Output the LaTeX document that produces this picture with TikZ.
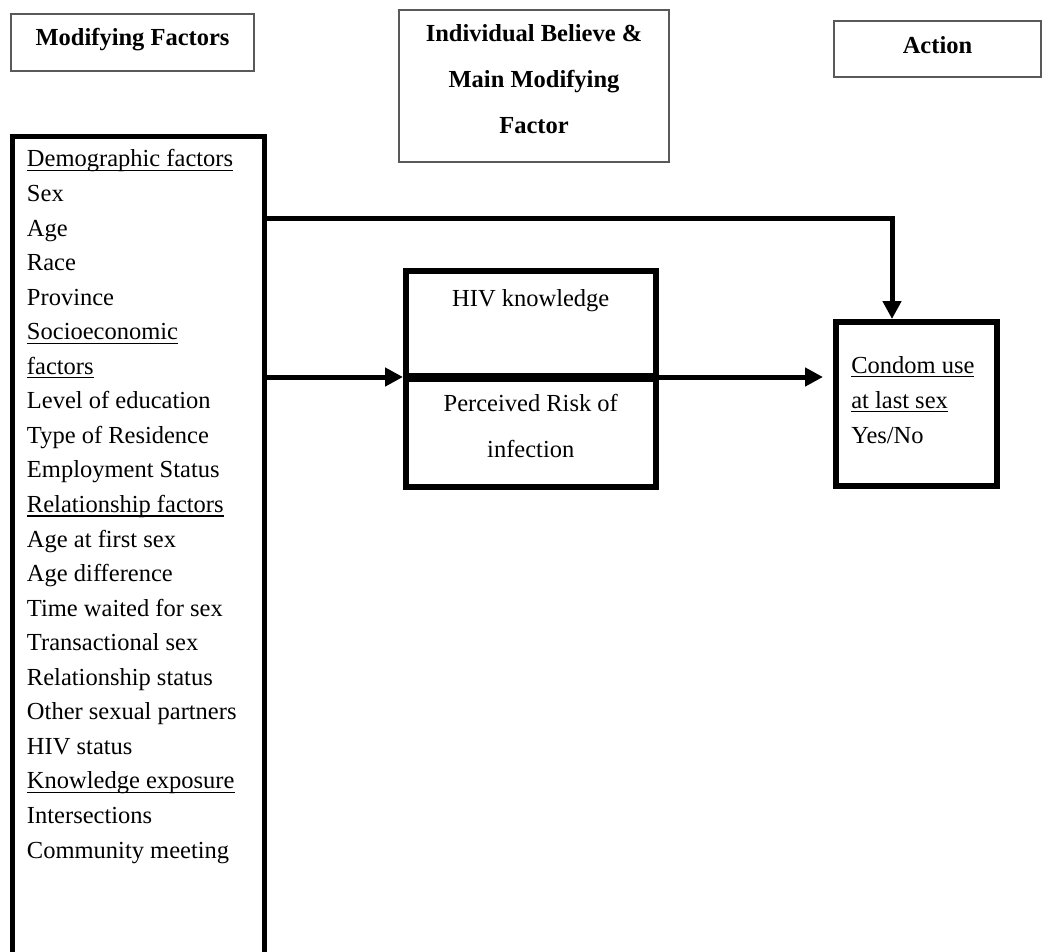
\documentclass[tikz,border=0pt]{standalone}
\usepackage{fontspec}
\setmainfont{Liberation Serif}
\usetikzlibrary{arrows.meta}
\newcommand\undl[1]{\sbox0{#1}\rlap{\rule[-4pt]{\wd0}{1.2pt}}\usebox0}
\newcommand\xdepth[1]{\rule[-#1]{0pt}{#1}}
\newcommand\normsp{\spaceskip=0pt\xspaceskip=0pt\relax}
\begin{document}
\begin{tikzpicture}[x=1pt,y=-1pt,
  hdr/.style={draw=black!65, line width=2pt, inner sep=0pt,
    font=\fontsize{24.5}{30}\selectfont\bfseries},
  framebox/.style={draw=black, line width=6pt, inner sep=0pt},
  arr/.style={line width=5pt, -{Triangle[length=18pt,width=18pt]}}]
\useasboundingbox (0,0) rectangle (1043,951);
\clip (0,0) rectangle (1043,951);
% header boxes
\node[hdr, minimum width=243pt, minimum height=57pt, text height=14pt, text depth=9pt] (mfh) at (132.5,42.5) {Modifying Factors};
\node[hdr, minimum width=270pt, minimum height=152pt, align=center,
  font=\fontsize{24.5}{45.8}\selectfont\bfseries] (ibh) at (534,86)
  {\strut Individual Believe \&\\ \strut Main Modifying\\ \strut Factor\xdepth{29.06pt}};
\node[hdr, minimum width=207pt, minimum height=56pt, text height=16pt, text depth=7.4pt] (act) at (937.5,49) {Action};
% modifying factors list
\node[framebox, line width=5pt, text width=222.5pt, inner xsep=14.5pt, inner ysep=6.8pt, align=left,
  font=\fontsize{24.5}{34.55}\selectfont] (mf) at (138.25,568)
  {\normsp\strut\undl{Demographic factors}\\
   \strut Sex\\
   \strut Age\\
   \strut Race\\
   \strut Province\\
   \strut\undl{Socioeconomic}\\
   \strut\undl{factors}\\
   \strut Level of education\\
   \strut Type of Residence\\
   \strut Employment Status\\
   \strut\undl{Relationship factors}\\
   \strut Age at first sex\\
   \strut Age difference\\
   \strut Time waited for sex\\
   \strut Transactional sex\\
   \strut Relationship status\\
   \strut Other sexual partners\\
   \strut HIV status\\
   \strut\undl{Knowledge exposure}\\
   \strut Intersections\\
   \strut Community meeting\xdepth{135.2pt}};
% individual beliefs
\node[framebox, minimum width=249.5pt, minimum height=105pt, text height=16pt, text depth=51pt,
  font=\fontsize{24.5}{30}\selectfont] (hivk) at (530.75,323.5) {HIV knowledge};
\node[framebox, minimum width=249.5pt, minimum height=108pt, align=center,
  font=\fontsize{24.5}{45.3}\selectfont] (risk) at (530.75,433)
  {\normsp\strut Perceived Risk of\\ \strut infection\xdepth{29pt}};
% action
\node[framebox, minimum width=160.5pt, minimum height=164pt, text width=130pt, inner xsep=15.25pt,
  align=left, font=\fontsize{24.5}{35}\selectfont] (cu) at (916.25,404)
  {\normsp\strut\undl{Condom use}\\ \strut\undl{at last sex}\\ \strut Yes/No\xdepth{16.5pt}};
% connectors
\coordinate (turn) at (892,218);
\coordinate (mid) at (0,377);
\draw[arr] (mf.east |- turn) -- (turn) -- (turn |- cu.north);
\draw[arr] (mf.east |- mid) -- (hivk.west |- mid);
\draw[arr, shorten >=10pt] (hivk.east |- mid) -- (cu.west |- mid);
\end{tikzpicture}
\end{document}
